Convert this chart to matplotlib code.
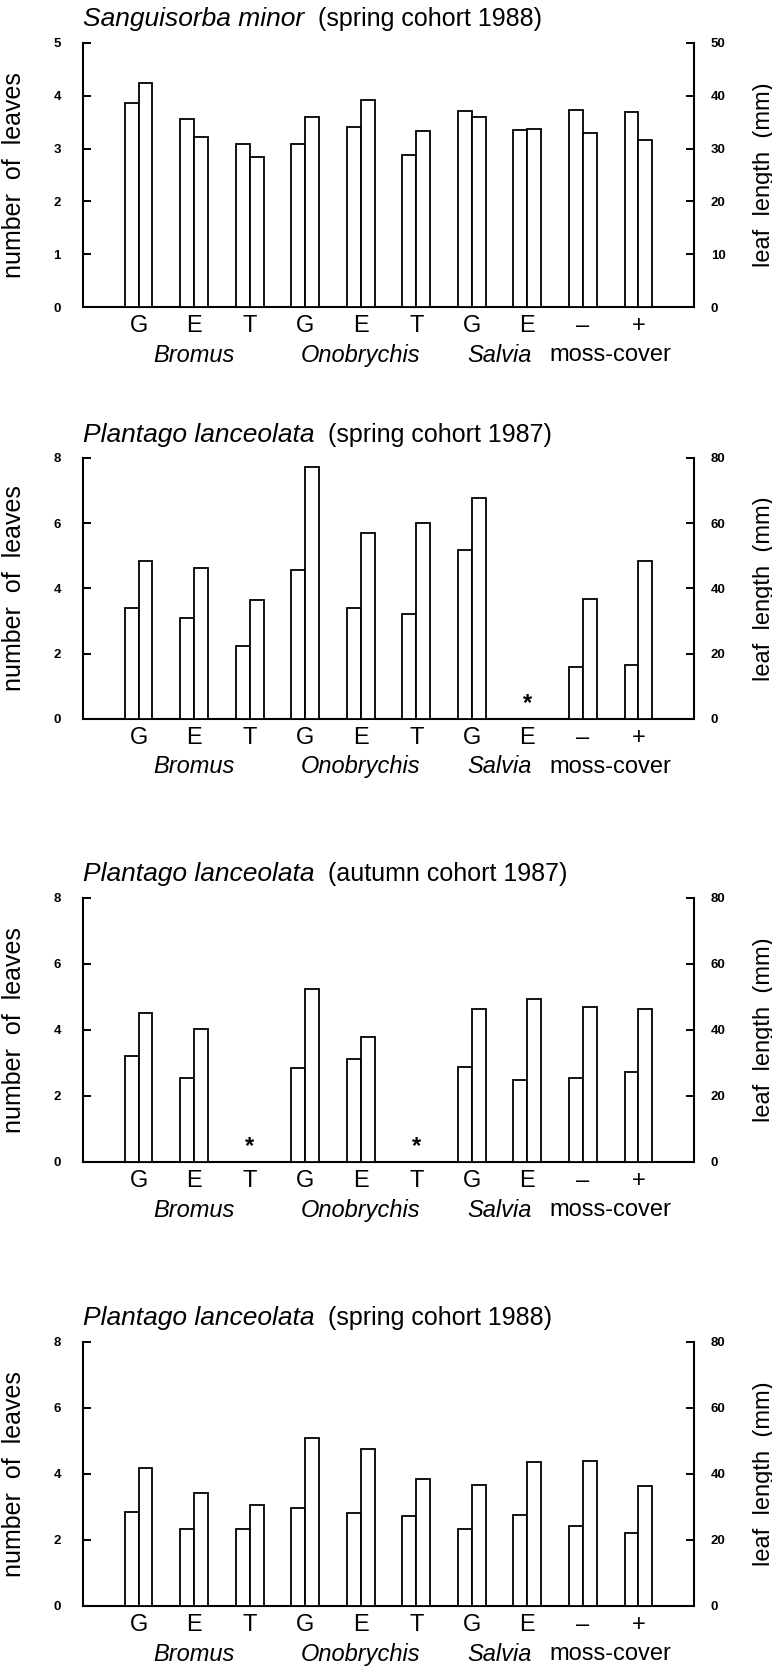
import numpy as np
import matplotlib
matplotlib.use('Agg')
import matplotlib.pyplot as plt

plt.rcParams['font.family'] = ['Liberation Sans', 'DejaVu Sans']

# ── Data ──────────────────────────────────────────────────────────────────────
tick_labels = ['G', 'E', 'T', 'G', 'E', 'T', 'G', 'E', '\u2013', '+']
group_names = ['Bromus', 'Onobrychis', 'Salvia', 'moss-cover']
group_pos = [1, 4, 6.5, 8.5]
group_italic = [True, True, True, False]

species = ['Sanguisorba minor', 'Plantago lanceolata',
           'Plantago lanceolata', 'Plantago lanceolata']
cohorts = ['(spring cohort 1988)', '(spring cohort 1987)',
           '(autumn cohort 1987)', '(spring cohort 1988)']
left_max = [5, 8, 8, 8]
right_max = [50, 80, 80, 80]

nan = np.nan
leaves_sm88 = [3.86, 3.57, 3.08, 3.09, 3.41, 2.87, 3.72, 3.36, 3.73, 3.70]
length_sm88 = [42.4, 32.2, 28.4, 35.9, 39.2, 33.4, 35.9, 33.8, 33.0, 31.6]

leaves_pl87s = [3.39, 3.10, 2.24, 4.58, 3.39, 3.22, 5.19, nan, 1.60, 1.65]
length_pl87s = [48.4, 46.3, 36.5, 77.3, 56.9, 60.0, 67.6, nan, 36.7, 48.3]

leaves_pl87a = [3.21, 2.56, nan, 2.86, 3.11, nan, 2.89, 2.50, 2.56, 2.73]
length_pl87a = [45.1, 40.4, nan, 52.4, 37.8, nan, 46.4, 49.3, 46.9, 46.3]

leaves_pl88s = [2.86, 2.34, 2.34, 2.96, 2.83, 2.73, 2.34, 2.76, 2.43, 2.20]
length_pl88s = [41.7, 34.2, 30.7, 51.0, 47.5, 38.6, 36.7, 43.6, 44.0, 36.5]

leaves = [leaves_sm88, leaves_pl87s, leaves_pl87a, leaves_pl88s]
lengths = [length_sm88, length_pl87s, length_pl87a, length_pl88s]

# ── Layout (pixel positions of the axes in a 772 x 1670 figure) ──────────────
W, H = 772, 1670
AX_L, AX_R = 83, 694
panel_y = [(43, 307), (458, 719), (898, 1162), (1342, 1606)]

fig = plt.figure(figsize=(W / 100, H / 100), dpi=100, facecolor='white')

BW = 0.25
LW = 1.3

for k in range(4):
    top, bot = panel_y[k]
    ax = fig.add_axes([AX_L / W, 1 - bot / H, (AX_R - AX_L) / W, (bot - top) / H])
    ax2 = ax.twinx()

    x = np.arange(len(tick_labels))
    lv = np.array(leaves[k], dtype=float)
    ln = np.array(lengths[k], dtype=float)
    ok = ~np.isnan(lv)

    ax.bar(x[ok] - BW / 2, lv[ok], width=BW, facecolor='white',
           edgecolor='black', linewidth=LW, zorder=3)
    ax2.bar(x[ok] + BW / 2, ln[ok], width=BW, facecolor='white',
            edgecolor='black', linewidth=LW, zorder=3)
    # missing data marked with an asterisk
    for xi in x[~ok]:
        ax.text(xi, left_max[k] * 0.06, '*', ha='center', va='center',
                fontsize=17, fontweight='bold')

    ax.set_xlim(-1, 10)
    ax.set_ylim(0, left_max[k])
    ax2.set_ylim(0, right_max[k])
    ax.set_yticks(np.arange(0, left_max[k] + 1, 1 if left_max[k] == 5 else 2))
    ax2.set_yticks(np.arange(0, right_max[k] + 1, 10 if right_max[k] == 50 else 20))

    for a in (ax, ax2):
        a.spines['top'].set_visible(False)
        for s in ('left', 'right', 'bottom'):
            a.spines[s].set_linewidth(1.5)
    ax.spines['right'].set_visible(False)
    ax2.spines['left'].set_visible(False)
    ax2.spines['bottom'].set_visible(False)

    ax.tick_params(axis='y', direction='in', length=6, width=1.4, pad=16,
                   labelsize=9.5)
    ax2.tick_params(axis='y', direction='in', length=6, width=1.4, pad=12,
                    labelsize=9.5)
    for lab in ax.get_yticklabels() + ax2.get_yticklabels():
        lab.set_fontweight('bold')

    ax.set_xticks(x)
    ax.set_xticklabels(tick_labels, fontsize=17)
    ax.tick_params(axis='x', length=0, pad=6)

    for name, gp, it in zip(group_names, group_pos, group_italic):
        ax.text(gp, -0.182, name, transform=ax.get_xaxis_transform(),
                ha='center', va='center', fontsize=17,
                style='italic' if it else 'normal')

    ax.set_ylabel('number  of  leaves', fontsize=18)
    ax.yaxis.set_label_coords(-0.093, 0.5)
    ax2.set_ylabel('leaf  length  (mm)', fontsize=17)
    ax2.yaxis.set_label_coords(1.097, 0.5)

    t1 = ax.text(0.0, 1.09, species[k], transform=ax.transAxes,
                 ha='left', va='center', fontsize=19, style='italic')
    ax.annotate('  ' + cohorts[k], xy=(1, 0.5), xycoords=t1,
                ha='left', va='center', fontsize=18)

fig.savefig('out.png', dpi=100, facecolor='white')
